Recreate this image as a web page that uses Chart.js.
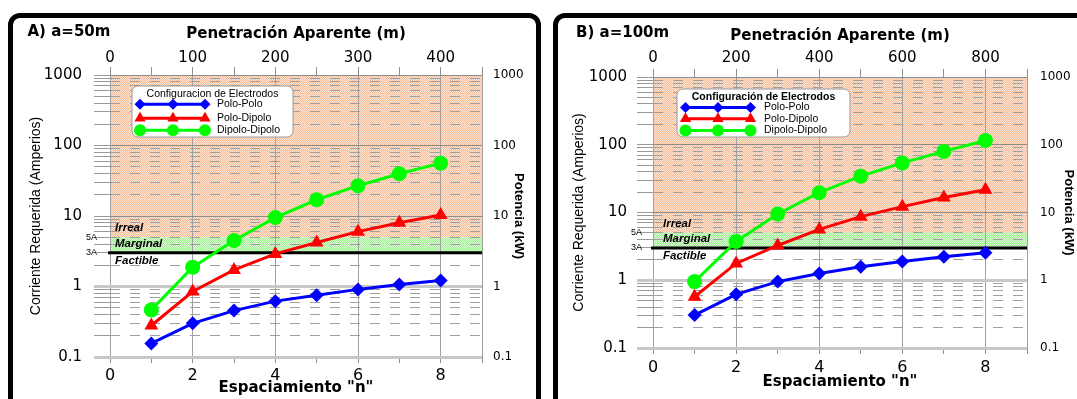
<!DOCTYPE html>
<html><head><meta charset="utf-8">
<script src="https://cdn.jsdelivr.net/npm/chart.js@4.4.1/dist/chart.umd.min.js"></script>
<style>
html,body{margin:0;padding:0;background:#fff;width:1077px;height:399px;overflow:hidden;position:relative}
canvas{position:absolute;top:0}
#cA{left:0;width:545px;height:399px}
#cB{left:545px;width:532px;height:399px}
.frame{position:absolute;border:5px solid #000;border-radius:12px;pointer-events:none;box-sizing:border-box}
#fA{left:8px;top:13px;width:533px;height:400px}
#fB{left:553px;top:13px;width:540px;height:400px}
</style></head><body>
<canvas id="cA" width="545" height="399"></canvas>
<canvas id="cB" width="532" height="399"></canvas>
<div class="frame" id="fA"></div><div class="frame" id="fB"></div>
<script>
// ---------- DATA ----------
const spacingN = [1, 2, 3, 4, 5, 6, 7, 8];
const seriesNames = ['Polo-Polo', 'Polo-Dipolo', 'Dipolo-Dipolo'];
const poloPoloA     = [0.156, 0.30, 0.455, 0.62, 0.75, 0.91, 1.07, 1.22];
const poloDipoloA   = [0.28, 0.85, 1.72, 2.9, 4.2, 6.0, 8.0, 10.3];
const dipoloDipoloA = [0.466, 1.88, 4.5, 9.5, 17.0, 26.9, 39.7, 56.2];
const poloPoloB     = [0.306, 0.62, 0.955, 1.26, 1.58, 1.89, 2.22, 2.54];
const poloDipoloB   = [0.57, 1.77, 3.26, 5.63, 8.68, 12.2, 16.7, 21.7];
const dipoloDipoloB = [0.955, 3.74, 9.5, 19.6, 34.4, 54.0, 79.7, 115.6];
const decadeValues = [0.1, 1, 10, 100, 1000];
const decadeLabels = ['0.1', '1', '10', '100', '1000'];
const bottomTickLabels = ['0', '2', '4', '6', '8'];
const topTickLabelsA = ['0', '100', '200', '300', '400'];
const topTickLabelsB = ['0', '200', '400', '600', '800'];
const limitMarginal = 5;   // 5A
const limitFactible = 3;   // 3A
const limitLabels = ['5A', '3A'];
const zoneNames = ['Irreal', 'Marginal', 'Factible'];

// ---------- HELPERS ----------
const minorMultipliers = [1,2,3,4,5,6,7,8,9];
const yGridValues = [];
for (let d = 0; d < decadeValues.length - 1; d++) for (const m of minorMultipliers) yGridValues.push(+(decadeValues[d]*m).toPrecision(6));
yGridValues.push(decadeValues[decadeValues.length-1]);
function isDecade(v){ const l = Math.log10(v); return Math.abs(l - Math.round(l)) < 1e-6; }
function decadeLabel(v){ const i = decadeValues.findIndex(d => Math.abs(d - v) < 1e-9); return i >= 0 ? decadeLabels[i] : ''; }
const COLORS = ['#0000FF', '#FF0000', '#00FF00'];
const STYLES = ['rectRot', 'triangle', 'circle'];
const RADII = [7, 8, 7.5];

function drawMarker(ctx, style, x, y, r, color){
  ctx.save(); ctx.fillStyle = color; ctx.beginPath();
  if (style === 'circle') ctx.arc(x, y, r, 0, Math.PI*2);
  else if (style === 'triangle'){
    ctx.moveTo(x, y - r);
    ctx.lineTo(x + r*Math.sin(2*Math.PI/3), y - r*Math.cos(2*Math.PI/3));
    ctx.lineTo(x + r*Math.sin(4*Math.PI/3), y - r*Math.cos(4*Math.PI/3));
  } else { ctx.moveTo(x - r, y); ctx.lineTo(x, y - r); ctx.lineTo(x + r, y); ctx.lineTo(x, y + r); }
  ctx.closePath(); ctx.fill(); ctx.restore();
}
function checker(ctx, c1, c2){
  const p = document.createElement('canvas'); p.width = 2; p.height = 2;
  const g = p.getContext('2d'); g.fillStyle = c1; g.fillRect(0,0,2,2);
  g.fillStyle = c2; g.fillRect(0,0,1,1); g.fillRect(1,1,1,1);
  return ctx.createPattern(p, 'repeat');
}

function makePanel(id, L){
  const series = L.series;
  const datasets = series.map((vals, i) => ({
    label: seriesNames[i],
    data: spacingN.map((n, k) => ({x: n, y: vals[k]})),
    borderColor: COLORS[i], backgroundColor: COLORS[i],
    pointBackgroundColor: COLORS[i], pointBorderColor: COLORS[i],
    pointStyle: STYLES[i], pointRadius: RADII[i], pointBorderWidth: 0,
    borderWidth: 3, tension: 0, xAxisID: 'x', yAxisID: 'y'
  }));

  const zonesPlugin = {
    id: 'zones',
    beforeDraw(chart){
      const {ctx, chartArea: a, scales: {y}} = chart;
      const yTop = y.getPixelForValue(decadeValues[decadeValues.length-1]);
      const y5 = y.getPixelForValue(limitMarginal), y3 = y.getPixelForValue(limitFactible);
      ctx.save();
      ctx.fillStyle = checker(ctx, '#FEE6D6', '#F6BC98');
      ctx.fillRect(a.left, yTop, a.right - a.left, y5 - yTop);
      ctx.fillStyle = checker(ctx, '#DCFBD6', '#9CEE90');
      ctx.fillRect(a.left, y5, a.right - a.left, y3 - y5);
      ctx.restore();
    },
    beforeDatasetsDraw(chart){
      const {ctx, chartArea: a, scales: {y}} = chart;
      const y5 = y.getPixelForValue(limitMarginal), y3 = y.getPixelForValue(limitFactible);
      ctx.save();
      ctx.strokeStyle = '#000'; ctx.lineWidth = 3;
      ctx.beginPath(); ctx.moveTo(a.left - 2, y3); ctx.lineTo(a.right, y3); ctx.stroke();
      ctx.fillStyle = '#000'; ctx.textBaseline = 'middle'; ctx.textAlign = 'left';
      ctx.font = 'italic bold 11.5px "Liberation Sans", Arial, sans-serif';
      ctx.fillText(zoneNames[0], a.left + L.zoneDx, y5 - 9);
      ctx.fillText(zoneNames[1], a.left + L.zoneDx, (y5 + y3)/2 - 1.5);
      ctx.fillText(zoneNames[2], a.left + L.zoneDx, y3 + 8);
      ctx.font = '9px "Liberation Sans", Arial, sans-serif'; ctx.textAlign = 'right';
      ctx.fillText(limitLabels[0], a.left - L.limitDx, y5);
      ctx.fillText(limitLabels[1], a.left - L.limitDx, y3);
      ctx.textAlign = 'left';
      ctx.font = 'bold 15px "DejaVu Sans", sans-serif';
      ctx.fillText(L.panelTitle, L.titleX, L.titleY);
      ctx.restore();
    },
    afterDatasetsDraw(chart){
      const {ctx, chartArea: a} = chart;
      const g = L.legend;
      const x0 = a.left + g.dx, y0 = a.top + g.dy;
      ctx.save();
      ctx.beginPath();
      if (ctx.roundRect) ctx.roundRect(x0, y0, g.w, g.h, 6); else ctx.rect(x0, y0, g.w, g.h);
      ctx.fillStyle = '#fff'; ctx.fill();
      ctx.strokeStyle = '#9a9a9a'; ctx.lineWidth = 1; ctx.stroke();
      ctx.fillStyle = '#000'; ctx.textBaseline = 'middle'; ctx.textAlign = 'center';
      ctx.font = (g.titleBold ? 'bold ' : '') + '10.5px "Liberation Sans", Arial, sans-serif';
      ctx.fillText(g.title, x0 + g.w/2, y0 + g.rows[0]);
      ctx.textAlign = 'left'; ctx.font = '10.5px "Liberation Sans", Arial, sans-serif';
      for (let i = 0; i < seriesNames.length; i++){
        const yy = y0 + g.rows[i+1];
        ctx.strokeStyle = COLORS[i]; ctx.lineWidth = 3;
        ctx.beginPath(); ctx.moveTo(x0 + g.lineX[0], yy); ctx.lineTo(x0 + g.lineX[2], yy); ctx.stroke();
        for (const lx of g.lineX) drawMarker(ctx, STYLES[i], x0 + lx, yy, [5.5, 6.5, 6][i], COLORS[i]);
        ctx.fillStyle = '#000';
        ctx.fillText(seriesNames[i], x0 + g.textX, yy);
      }
      ctx.restore();
    }
  };

  return new Chart(document.getElementById(id), {
    type: 'line',
    data: {datasets},
    plugins: [zonesPlugin],
    options: {
      responsive: false, animation: false, devicePixelRatio: 1,
      layout: {padding: 0},
      plugins: {legend: {display: false}, tooltip: {enabled: false}},
      scales: {
        x: {
          type: 'linear', position: 'bottom', min: 0, max: 9,
          afterFit: s => { s.height = L.bottomH; },
          ticks: {stepSize: 1, autoSkip: false, maxRotation: 0, padding: L.bottomPad, color: '#000',
            font: {family: '"DejaVu Sans", sans-serif', size: 16},
            callback: v => bottomTickLabels.includes(String(v)) ? String(v) : ''},
          grid: {color: c => (c.tick && (c.tick.value % 2 === 0 || c.tick.value === 9)) ? '#a0a0a0' : 'rgba(0,0,0,0)',
            tickColor: '#909090', tickLength: 6, lineWidth: 1},
          border: {display: false},
          title: {display: true, text: 'Espaciamiento "n"', color: '#000',
            font: {family: '"DejaVu Sans", sans-serif', size: 15, weight: 'bold'},
            padding: {top: 0, bottom: L.bottomTitlePad}}
        },
        x2: {
          type: 'linear', position: 'top', min: 0, max: L.topMax,
          afterFit: s => { s.height = L.topH; },
          ticks: {stepSize: L.topStep, autoSkip: false, maxRotation: 0, padding: L.topPad, color: '#000',
            font: {family: '"DejaVu Sans", sans-serif', size: 15},
            callback: v => L.topLabels.includes(String(v)) ? String(v) : ''},
          grid: {drawOnChartArea: false, tickLength: 8, tickColor: '#909090'},
          border: {display: false},
          title: {display: true, text: 'Penetración Aparente (m)', color: '#000',
            font: {family: '"DejaVu Sans", sans-serif', size: 15, weight: 'bold'},
            padding: {top: L.topTitlePad, bottom: 0}}
        },
        y: {
          type: 'logarithmic', position: 'left', min: 0.1, max: 1000,
          afterBuildTicks: s => { s.ticks = yGridValues.map(v => ({value: v, major: isDecade(v)})); },
          afterFit: s => { s.width = L.leftW; },
          ticks: {autoSkip: false, padding: L.leftPad, color: '#000',
            font: {family: '"DejaVu Sans", sans-serif', size: 15},
            callback: v => isDecade(v) ? decadeLabel(v) : ''},
          grid: {
            color: c => { if (!c.tick) return 'rgba(0,0,0,0)'; const v = c.tick.value;
              return isDecade(v) ? (v <= 1 ? '#c8c8c8' : '#8c8c8c') : '#a0a0a0'; },
            lineWidth: c => (c.tick && isDecade(c.tick.value) && c.tick.value <= 1) ? 3 : 1,
            tickColor: c => (c.tick && isDecade(c.tick.value) && c.tick.value <= 1) ? '#c8c8c8' : '#999999',
            tickLength: 16
          },
          border: {display: false, dash: c => (c.tick && !isDecade(c.tick.value)) ? [10, 10] : []},
          title: {display: true, text: 'Corriente Requerida (Amperios)', color: '#000',
            font: {family: '"Liberation Sans", Arial, sans-serif', size: 14},
            padding: {top: L.leftTitlePad, bottom: 0}}
        },
        y2: {
          type: 'logarithmic', position: 'right', min: 0.1, max: 1000,
          afterBuildTicks: s => { s.ticks = decadeValues.map(v => ({value: v, major: true})); },
          afterFit: s => { s.width = L.rightW; },
          ticks: {autoSkip: false, padding: L.rightPad, color: '#000',
            font: {family: '"DejaVu Sans", sans-serif', size: 12},
            callback: v => decadeLabel(v)},
          grid: {drawOnChartArea: false, drawTicks: false},
          border: {display: false},
          title: {display: true, text: 'Potencia (kW)', color: '#000',
            font: {family: '"Liberation Sans", Arial, sans-serif', size: 13, weight: 'bold'},
            padding: {top: L.rightTitlePad, bottom: 0}}
        }
      }
    }
  });
}

makePanel('cA', {
  series: [poloPoloA, poloDipoloA, dipoloDipoloA],
  panelTitle: 'A) a=50m', titleX: 27.5, titleY: 32,
  leftW: 110, rightW: 63, topH: 75, bottomH: 42,
  leftPad: 12, leftTitlePad: 27.6, rightPad: 11, rightTitlePad: 18.2,
  topPad: 0, topTitlePad: 25, bottomPad: 3, bottomTitlePad: 1.7,
  topMax: 450, topStep: 50, topLabels: topTickLabelsA,
  zoneDx: 5, limitDx: 13,
  legend: {dx: 22, dy: 11, w: 161, h: 51, rows: [8.3, 18.3, 32.3, 44.3], lineX: [8, 41, 73], textX: 85,
    titleBold: false, title: 'Configuracion de Electrodos'}
});
makePanel('cB', {
  series: [poloPoloB, poloDipoloB, dipoloDipoloB],
  panelTitle: 'B) a=100m', titleX: 31, titleY: 33.3,
  leftW: 108, rightW: 50, topH: 77, bottomH: 51,
  leftPad: 10, leftTitlePad: 25.6, rightPad: 13, rightTitlePad: 0.2,
  topPad: 2, topTitlePad: 27, bottomPad: 4.4, bottomTitlePad: 8.3,
  topMax: 900, topStep: 100, topLabels: topTickLabelsB,
  zoneDx: 10, limitDx: 11,
  legend: {dx: 24, dy: 12, w: 173, h: 48, rows: [8.4, 18.4, 29.7, 41.4], lineX: [8.5, 41, 73.5], textX: 87,
    titleBold: true, title: 'Configuración de Electrodos'}
});
</script>
</body></html>
